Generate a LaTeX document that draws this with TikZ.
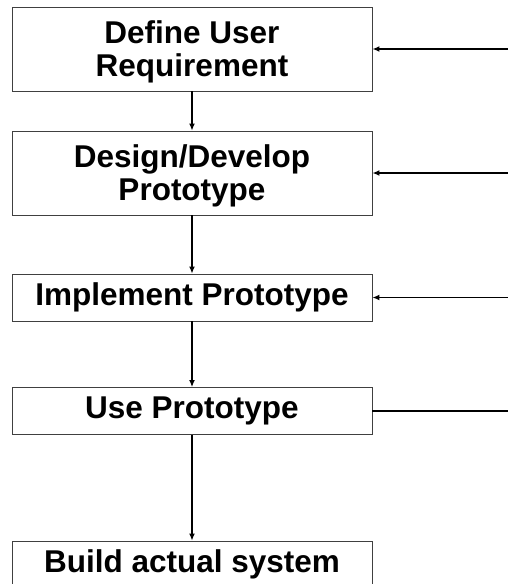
\documentclass[tikz,border=0pt]{standalone}
\usepackage{fontspec}
\setmainfont{Liberation Sans}
\usetikzlibrary{arrows.meta}
\begin{document}
\begin{tikzpicture}[x=1pt,y=-1pt,
  box/.style={draw=black!75, line width=0.9pt, minimum width=360pt, align=center,
    font=\fontsize{31.5}{33}\selectfont\bfseries, inner sep=0pt},
  tall/.style={minimum height=84pt, text depth=0pt},
  short/.style={minimum height=47pt},
  flow/.style={line width=1.3pt, -{Latex[length=7pt,width=6pt]}},
  back/.style={line width=1.6pt, -{Latex[length=7pt,width=6pt]}},
  plain/.style={line width=2pt}]
\useasboundingbox (0,0) rectangle (508,584);
\node[box,tall]  (req)   at (192,49)    {Define User\\Requirement};
\node[box,tall]  (des)   at (192,173)   {Design/Develop\\Prototype};
\node[box,short] (impl)  at (192,297.5) {Implement Prototype};
\node[box,short] (use)   at (192,411)   {Use Prototype};
\node[box,short] (build) at (192,564.5) {Build actual system};
\coordinate (r1) at (508,49);
\coordinate (r2) at (508,173);
\coordinate (r3) at (508,297.5);
\coordinate (r4) at (508,411);
\draw[flow] (req) -- (des);
\draw[flow] (des) -- (impl);
\draw[flow] (impl) -- (use);
\draw[flow] (use) -- (build);
\draw[back] (r1) -- (req.east |- r1);
\draw[back] (r2) -- (des.east |- r2);
\draw[back] (r3) -- (impl.east |- r3);
\draw[plain] (use.east |- r4) -- (r4);
\end{tikzpicture}
\end{document}
